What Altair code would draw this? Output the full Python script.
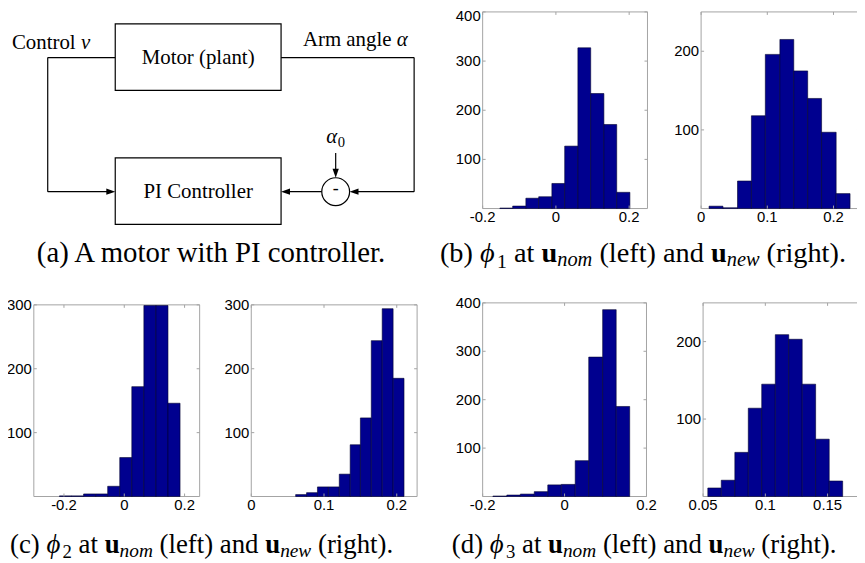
import altair as alt
import pandas as pd

# ---------------- page / style constants ----------------
OFF = 8                 # body margin of the page
W, H = 855, 555         # whole drawing area (autosize none, padding 0)
NAVY = "#00008F"
EDGE = "#000030"
FRAME = "#a3a3a3"
SANS = "Liberation Sans"
SERIF = "Liberation Serif"
TICK_FS = 15
CAP_A_FS = 29
CAP_B_FS = 28.5
CAP_CD_FS = 27
DIA_FS = 21

# ---------------- histogram data ----------------
b_nom_edges = [-0.153, -0.118, -0.082, -0.047, -0.011, 0.024, 0.060, 0.095, 0.131, 0.166, 0.202]
b_nom_counts = [1, 5, 21, 24, 51, 127, 327, 234, 171, 33]
b_new_edges = [0.012, 0.033, 0.055, 0.076, 0.097, 0.119, 0.140, 0.161, 0.182, 0.204, 0.225]
b_new_counts = [3, 1, 35, 118, 196, 215, 175, 140, 97, 19]
c_nom_edges = [-0.215, -0.175, -0.135, -0.095, -0.055, -0.015, 0.025, 0.065, 0.105, 0.145, 0.185]
c_nom_counts = [1, 1, 4, 4, 16, 61, 172, 299, 299, 146]
c_new_edges = [0.061, 0.076, 0.091, 0.106, 0.121, 0.136, 0.150, 0.165, 0.180, 0.195, 0.210]
c_new_counts = [3, 6, 15, 15, 35, 81, 123, 244, 294, 185]
d_nom_edges = [-0.175, -0.141, -0.108, -0.074, -0.041, -0.008, 0.026, 0.059, 0.093, 0.126, 0.159]
d_nom_counts = [1, 3, 5, 10, 24, 25, 74, 288, 386, 186]
d_new_edges = [0.0538, 0.0646, 0.0755, 0.0863, 0.0971, 0.1080, 0.1188, 0.1296, 0.1404, 0.1513, 0.1621]
d_new_counts = [11, 21, 57, 114, 145, 209, 203, 145, 74, 20]

# tick values of every panel
b_nom_xt, b_nom_yt = [-0.2, 0, 0.2], [100, 200, 300, 400]
b_new_xt, b_new_yt = [0, 0.1, 0.2], [100, 200]
c_nom_xt, c_nom_yt = [-0.2, 0, 0.2], [100, 200, 300]
c_new_xt, c_new_yt = [0, 0.1, 0.2], [100, 200, 300]
d_nom_xt, d_nom_yt = [-0.2, 0, 0.2], [100, 200, 300, 400]
d_new_xt, d_new_yt = [0.05, 0.1, 0.15], [100, 200]

# ---------------- texts ----------------
caption_a = "(a) A motor with PI controller."
cap_letters = ["b", "c", "d"]
cap_indices = ["1", "2", "3"]
label_control = "Control "
label_arm = "Arm angle "
label_motor = "Motor (plant)"
label_pi = "PI Controller"

# ---------------- Times-like glyph widths (em) ----------------
WN = {' ': .25, '(': .333, ')': .333, '.': .25, 'a': .444, 'b': .5, 'c': .444, 'd': .5,
      'e': .444, 'f': .333, 'g': .5, 'h': .5, 'i': .278, 'l': .278, 'm': .778, 'n': .5,
      'o': .5, 'p': .5, 'r': .333, 't': .278, 'w': .722, 'A': .722, 'C': .667, 'I': .333,
      'M': .889, 'P': .556, '0': .5, '1': .5, '2': .5, '3': .5, '-': .333}
WI = {'n': .5, 'o': .5, 'm': .722, 'e': .444, 'w': .667, 'v': .444, 'α': .55, 'ϕ': .6}
WB = {'u': .556}


def seg_width(text, style, size):
    table = {'n': WN, 'i': WI, 'b': WB}[style]
    return sum(table.get(ch, WN.get(ch, .5)) for ch in text) * size


def layout(parts, x, y, base, anchor="left"):
    total = sum(seg_width(t, st, base * sc) for t, st, sc, dy in parts)
    if anchor == "center":
        x = x - total / 2
    rows = []
    for t, st, sc, dy in parts:
        size = base * sc
        lead = len(t) - len(t.lstrip(" "))
        core = t.strip(" ")
        if core:
            rows.append(dict(x=x + lead * WN[' '] * size - OFF, y=y + dy * base - OFF,
                             t=core, s=size, st=st))
        x += seg_width(t, st, size)
    return rows


def cap_parts(letter, idx):
    return [(f"({letter}) ", 'n', 1, 0), ("ϕ", 'i', 1, 0), (idx, 'n', .7, .2),
            (" at ", 'n', 1, 0), ("u", 'b', 1, 0), ("nom", 'i', .72, .15),
            (" (left) and ", 'n', 1, 0), ("u", 'b', 1, 0), ("new", 'i', .72, .15),
            (" (right).", 'n', 1, 0)]


rows = []
rows += layout([(caption_a, 'n', 1, 0)], 215, 262, CAP_A_FS, "center")
rows += layout(cap_parts(cap_letters[0], cap_indices[0]), 443, 262, CAP_B_FS)
rows += layout(cap_parts(cap_letters[1], cap_indices[1]), 10, 555, CAP_CD_FS)
rows += layout(cap_parts(cap_letters[2], cap_indices[2]), 455, 555, CAP_CD_FS)
rows += layout([(label_control, 'n', 1, 0), ("v", 'i', 1, 0)], 12, 47, DIA_FS)
rows += layout([(label_arm, 'n', 1, 0), ("α", 'i', 1, 0)], 305, 44, DIA_FS)
rows += layout([(label_motor, 'n', 1, 0)], 199.5, 62, DIA_FS, "center")
rows += layout([(label_pi, 'n', 1, 0)], 199.5, 197, DIA_FS, "center")
rows += layout([("α", 'i', 1, 0), ("0", 'n', .7, .2)], 338, 142, DIA_FS, "center")
rows += layout([("-", 'n', 1, 0)], 338, 193, 18, "center")
texts = pd.DataFrame(rows)


def text_layer(style, fstyle="normal", weight="normal"):
    df = texts[texts["st"] == style]
    return alt.Chart(df).mark_text(
        align="left", baseline="alphabetic", font=SERIF, fontStyle=fstyle,
        fontWeight=weight, color="black"
    ).encode(
        x=alt.X("x:Q", scale=None), y=alt.Y("y:Q", scale=None),
        text="t:N", size=alt.Size("s:Q", scale=None)
    )


# ---------------- block diagram ----------------
box_x = [116, 116]
box_x2 = [283, 283]
box_y = [22, 157]
box_y2 = [89, 224]
wire_x = [116, 48, 48, 283, 417, 417, 324, 338]
wire_y = [56, 56, 191, 56, 56, 191, 191, 152]
wire_x2 = [48, 48, 110, 417, 417, 358, 289, 338]
wire_y2 = [56, 191, 191, 56, 191, 191, 191, 171]
arrow_x = [116, 352, 283, 338]
arrow_y = [191, 191, 191, 177]
arrow_a = [0, 180, 180, 90]
sum_x, sum_y = [338], [191]

boxes = pd.DataFrame({"x": box_x, "x2": box_x2, "y": box_y, "y2": box_y2}) - OFF
wires = pd.DataFrame({"x": wire_x, "y": wire_y, "x2": wire_x2, "y2": wire_y2}) - OFF
arrows = pd.DataFrame({"x": [v - OFF for v in arrow_x], "y": [v - OFF for v in arrow_y], "a": arrow_a})
summer = pd.DataFrame({"x": [v - OFF for v in sum_x], "y": [v - OFF for v in sum_y]})

box_layer = alt.Chart(boxes).mark_rect(fill="white", stroke="black", strokeWidth=1.2).encode(
    x=alt.X("x:Q", scale=None), x2="x2:Q", y=alt.Y("y:Q", scale=None), y2="y2:Q")
wire_layer = alt.Chart(wires).mark_rule(color="black", strokeWidth=1.2).encode(
    x=alt.X("x:Q", scale=None), x2="x2:Q", y=alt.Y("y:Q", scale=None), y2="y2:Q")
arrow_layer = alt.Chart(arrows).mark_point(
    shape="M0,0L-2,-0.7L-2,0.7Z", size=81, filled=True, color="black", opacity=1
).encode(x=alt.X("x:Q", scale=None), y=alt.Y("y:Q", scale=None), angle=alt.Angle("a:Q", scale=None))
sum_layer = alt.Chart(summer).mark_point(
    shape="circle", size=784, filled=False, color="black", strokeWidth=1.2, opacity=1
).encode(x=alt.X("x:Q", scale=None), y=alt.Y("y:Q", scale=None))


# ---------------- histograms ----------------
def hist(edges, counts, xdom, ydom, box, xticks, yticks):
    L, T, R, B = [v - OFF for v in box]
    xs = alt.Scale(domain=xdom, range=[L, R], nice=False, zero=False)
    ys = alt.Scale(domain=ydom, range=[B, T], nice=False, zero=False)
    one = pd.DataFrame({"k": [0]})
    frame = alt.Chart(one).mark_rect(fillOpacity=0, stroke=FRAME, strokeWidth=1).encode(
        x=alt.XDatum(xdom[0], scale=xs, axis=None), x2=alt.X2Datum(xdom[1]),
        y=alt.YDatum(ydom[0], scale=ys, axis=None), y2=alt.Y2Datum(ydom[1]))
    bars = alt.Chart(pd.DataFrame({"x0": edges[:-1], "x1": edges[1:], "n": counts})).mark_rect(
        fill=NAVY, stroke=EDGE, strokeWidth=0.6
    ).encode(
        x=alt.X("x0:Q", scale=xs, axis=None), x2="x1:Q",
        y=alt.Y("n:Q", scale=ys, axis=None), y2=alt.Y2Datum(0))
    xt = pd.DataFrame({"v": xticks, "lab": [f"{v:g}" for v in xticks]})
    yt = pd.DataFrame({"v": yticks, "lab": [f"{v:g}" for v in yticks]})
    tick_b = alt.Chart(xt).mark_rule(color=FRAME, y2Offset=-3).encode(
        x=alt.X("v:Q", scale=xs, axis=None),
        y=alt.YDatum(ydom[0], scale=ys, axis=None), y2=alt.Y2Datum(ydom[0]))
    tick_t = alt.Chart(xt).mark_rule(color=FRAME, y2Offset=3).encode(
        x=alt.X("v:Q", scale=xs, axis=None),
        y=alt.YDatum(ydom[1], scale=ys, axis=None), y2=alt.Y2Datum(ydom[1]))
    tick_l = alt.Chart(yt).mark_rule(color=FRAME, x2Offset=3).encode(
        y=alt.Y("v:Q", scale=ys, axis=None),
        x=alt.XDatum(xdom[0], scale=xs, axis=None), x2=alt.X2Datum(xdom[0]))
    tick_r = alt.Chart(yt).mark_rule(color=FRAME, x2Offset=-3).encode(
        y=alt.Y("v:Q", scale=ys, axis=None),
        x=alt.XDatum(xdom[1], scale=xs, axis=None), x2=alt.X2Datum(xdom[1]))
    lab_x = alt.Chart(xt).mark_text(
        font=SANS, fontSize=TICK_FS, align="center", baseline="top", dy=2, color="black"
    ).encode(x=alt.X("v:Q", scale=xs, axis=None),
             y=alt.YDatum(ydom[0], scale=ys, axis=None), text="lab:N")
    # a label sitting on the very top edge of the page is nudged down so it stays visible
    near_top = T < 8
    yt_main = yt[~((yt["v"] == ydom[1]) & near_top)]
    yt_top = yt[(yt["v"] == ydom[1]) & near_top]
    layers = [frame, bars, tick_b, tick_t, tick_l, tick_r, lab_x]
    for df, dy in ((yt_main, 0), (yt_top, 4)):
        if len(df):
            layers.append(alt.Chart(df).mark_text(
                font=SANS, fontSize=TICK_FS, align="right", baseline="middle", dx=-2, dy=dy,
                color="black"
            ).encode(y=alt.Y("v:Q", scale=ys, axis=None),
                     x=alt.XDatum(xdom[0], scale=xs, axis=None), text="lab:N"))
    return alt.layer(*layers)


h_b_nom = hist(b_nom_edges, b_nom_counts, [-0.2, 0.25], [0, 400], (486, 10, 652, 208), b_nom_xt, b_nom_yt)
h_b_new = hist(b_new_edges, b_new_counts, [0, 0.24], [0, 250], (706, 10, 866, 208), b_new_xt, b_new_yt)
h_c_nom = hist(c_nom_edges, c_nom_counts, [-0.3, 0.25], [0, 300], (34, 305, 201, 498), c_nom_xt, c_nom_yt)
h_c_new = hist(c_new_edges, c_new_counts, [0, 0.228], [0, 300], (253, 305, 420, 498), c_new_xt, c_new_yt)
h_d_nom = hist(d_nom_edges, d_nom_counts, [-0.2, 0.2], [0, 400], (486, 303, 651, 498), d_nom_xt, d_nom_yt)
h_d_new = hist(d_new_edges, d_new_counts, [0.05, 0.18], [0, 250], (708, 303, 871, 498), d_new_xt, d_new_yt)

chart = alt.layer(
    wire_layer, box_layer, sum_layer, arrow_layer,
    h_b_nom, h_b_new, h_c_nom, h_c_new, h_d_nom, h_d_new,
    text_layer("n"), text_layer("i", fstyle="italic"), text_layer("b", weight="bold"),
).resolve_scale(
    x="independent", y="independent"
).properties(
    width=W, height=H, padding=0, autosize=alt.AutoSizeParams(type="none")
).configure_view(stroke="transparent")

chart.save("out.html", embed_options={"renderer": "svg", "actions": False})
